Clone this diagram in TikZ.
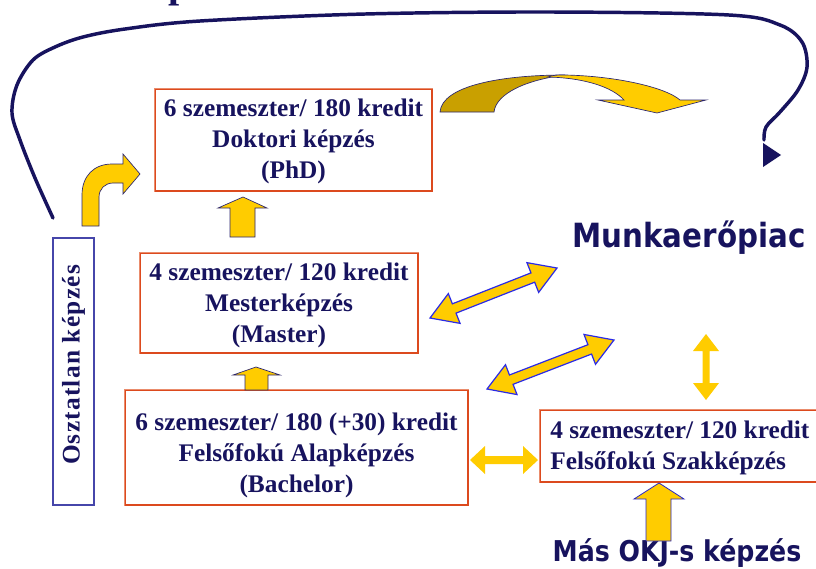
\documentclass[tikz,border=0pt]{standalone}
\usepackage{fontspec}
\setmainfont{Liberation Serif}
\newfontfamily\headfont[FakeStretch=0.88]{DejaVu Sans}
\newfontfamily\oszfont[LetterSpace=5]{Liberation Serif}
\usetikzlibrary{calc}
\definecolor{navy}{HTML}{17135E}
\definecolor{boxred}{HTML}{DC4A1E}
\definecolor{boxlight}{HTML}{EA8C6C}
\definecolor{gold}{HTML}{FFCC00}
\definecolor{darkgold}{HTML}{C9A000}
\definecolor{arrblue}{HTML}{2A2AE6}
\definecolor{oszblue}{HTML}{4646AA}
\definecolor{outl}{HTML}{2B2670}
\newcommand{\dblblock}[8]{%
  \pgfmathsetmacro\dbang{atan2(-((#4)-(#2)),(#3)-(#1))}%
  \pgfmathsetmacro\dblen{veclen((#3)-(#1),(#4)-(#2))}%
  \begin{scope}[shift={(#1,#2)},rotate=\dbang]
    \path[#8] (0,0) -- (#7,#6) -- (#7,#5) -- (\dblen-#7,#5) -- (\dblen-#7,#6) -- (\dblen,0)
      -- (\dblen-#7,-#6) -- (\dblen-#7,-#5) -- (#7,-#5) -- (#7,-#6) -- cycle;
  \end{scope}}
\begin{document}
\begin{tikzpicture}[x=0.75pt,y=-0.75pt,
  boxnode/.style={draw=boxred, line width=1.1pt, fill=white, inner sep=0pt},
  boxtext/.style={text=navy, font=\fontsize{19}{23.25}\selectfont\bfseries, align=center, inner sep=0pt},
  headtext/.style={text=navy, inner sep=0pt},
  lightedge/.style={draw=boxlight, line width=1.1pt},
  goldout/.style={fill=gold, draw=outl, line width=0.5pt},
  goldplain/.style={fill=gold},
  goldblue/.style={fill=gold, draw=arrblue, line width=0.9pt},
  curveline/.style={draw=navy, line width=2.6pt, line cap=round}]
\useasboundingbox (0,0) rectangle (816,568);
\fill[white] (0,0) rectangle (816,568);

% cropped fragment of a title letter at the top
\node[text=navy, font=\fontsize{30}{36}\selectfont\bfseries, inner sep=0pt, anchor=south] (titlefrag) at (180,6) {p};

% big return curve
\coordinate (cstart) at (53,218);
\coordinate (cend) at (764,140);
\draw[curveline] plot[smooth, tension=0.55] coordinates {(cstart) (35,178) (20,140) (12,113) (17,85) (33,60) (55,47) (83,37) (125,29) (200,21) (365,14) (550,12) (729,15) (780,25) (802,42) (807,67) (798,90) (780,112) (766,127) (cend)};
\fill[navy] (763,143) -- (763,167) -- (781,155) -- cycle;

% boxes
\node[boxnode, minimum width=277*0.75pt, minimum height=102*0.75pt] (phdbox) at (293.5,140) {};
\node[boxnode, minimum width=278*0.75pt, minimum height=100*0.75pt] (msbox) at (279,303) {};
\node[boxnode, minimum width=343*0.75pt, minimum height=115*0.75pt] (bscbox) at (296.5,447.5) {};
\node[boxnode, minimum width=290*0.75pt, minimum height=72*0.75pt] (szakbox) at (685,446) {};
\node[draw=oszblue, line width=1.1pt, fill=white, minimum width=41*0.75pt, minimum height=267*0.75pt, inner sep=0pt] (oszbox) at (73.5,371.5) {};
\foreach \b in {phdbox,msbox,bscbox,szakbox}
  \draw[lightedge] (\b.south west) -- (\b.north west) -- (\b.north east);

% box texts
\node[boxtext] (phd) at (293.5,141) {6 szemeszter/ 180 kredit\\Doktori képzés\\(PhD)};
\node[boxtext] (ms) at (279,305) {4 szemeszter/ 120 kredit\\Mesterképzés\\(Master)};
\node[boxtext] (bsc) at (296.5,455) {6 szemeszter/ 180 (+30) kredit\\Felsőfokú Alapképzés\\(Bachelor)};
\node[boxtext, align=left, anchor=west] (szak) at (550,448) {4 szemeszter/ 120 kredit\\Felsőfokú Szakképzés};
\node[boxtext, rotate=90, font=\oszfont\fontsize{19}{23.25}\selectfont\bfseries] (osz) at (73.5,365) {Osztatlan képzés};

% headings
\node[headtext, font=\headfont\fontsize{25}{30}\selectfont\bfseries, anchor=base] (piac) at (689,247) {Munkaerőpiac};
\node[headtext, font=\headfont\fontsize{21.5}{26}\selectfont\bfseries, anchor=base] (okj) at (677,561) {Más OKJ-s képzés};

% bent arrow Osztatlan -> PhD
\path[goldout] (82,226) -- (82,195) .. controls (82,176) and (94,164) .. (112,164) -- (123,164) -- (123,154) -- (140,174) -- (123,194) -- (123,183) -- (113,183) .. controls (105,183) and (99,189) .. (99,197) -- (99,226) -- cycle;

% up arrows
\path[goldout] (230,237) -- (230,208) -- (218,208) -- (243,197) -- (267,208) -- (255,208) -- (255,237) -- cycle;
\path[goldout] (245,390) -- (245,375) -- (233,375) -- (256,367) -- (280,375) -- (268,375) -- (268,390) -- cycle;
\path[fill=gold, draw=arrblue!70!outl, line width=0.6pt] (646,541) -- (646,499) -- (634,499) -- (659,483) -- (684,499) -- (671,499) -- (671,541) -- cycle;

% curved arrow PhD -> market
\path[fill=darkgold, draw=outl, line width=0.5pt] (440,112) .. controls (442,86) and (500,75) .. (565,75) .. controls (525,80) and (496,94) .. (494,112) -- cycle;
\path[goldout] (548,77) .. controls (552,75) and (558,75) .. (565,75) .. controls (615,76) and (665,87) .. (680,100) -- (706,100) -- (657,113) -- (598,100) -- (624,100) .. controls (612,87) and (585,78) .. (548,77) -- cycle;

% double arrows
\dblblock{430}{318}{557}{268}{5}{16}{26}{goldblue}
\dblblock{487}{389}{614}{340}{5}{16}{26}{goldblue}
\dblblock{470}{460}{538}{460}{4}{14}{15}{goldplain}
\dblblock{706}{334}{706}{400}{3.5}{13}{17}{goldplain}
\end{tikzpicture}
\end{document}
